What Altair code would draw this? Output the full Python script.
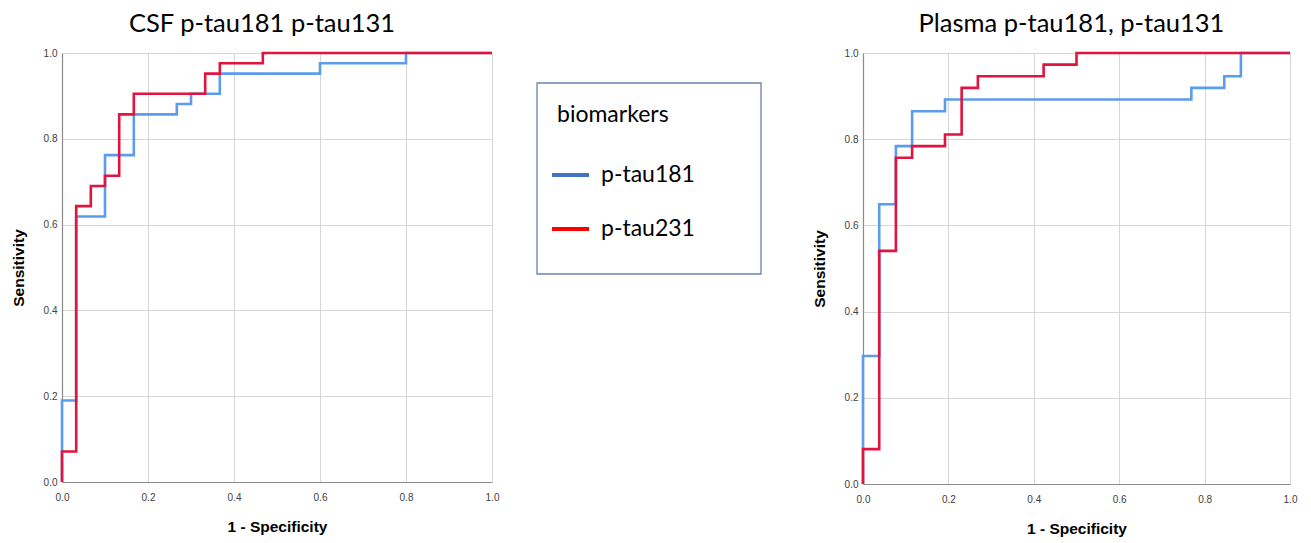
import altair as alt
import pandas as pd

# ---- data ----
series_names = ["p-tau181", "p-tau231"]

csf_181_fpr = [0.0, 0.0, 0.033, 0.100, 0.167, 0.267, 0.300, 0.367, 0.600, 0.800, 1.0]
csf_181_tpr = [0.0, 0.190, 0.619, 0.762, 0.857, 0.881, 0.905, 0.952, 0.976, 1.0, 1.0]
csf_231_fpr = [0.0, 0.0, 0.033, 0.067, 0.100, 0.133, 0.167, 0.333, 0.367, 0.467, 1.0]
csf_231_tpr = [0.0, 0.071, 0.643, 0.690, 0.714, 0.857, 0.905, 0.952, 0.976, 1.0, 1.0]

pl_181_fpr = [0.0, 0.0, 0.038, 0.077, 0.115, 0.192, 0.769, 0.846, 0.885, 1.0]
pl_181_tpr = [0.0, 0.297, 0.649, 0.784, 0.865, 0.892, 0.919, 0.946, 1.0, 1.0]
pl_231_fpr = [0.0, 0.0, 0.038, 0.077, 0.115, 0.192, 0.231, 0.269, 0.423, 0.500, 1.0]
pl_231_tpr = [0.0, 0.081, 0.541, 0.757, 0.784, 0.811, 0.919, 0.946, 0.973, 1.0, 1.0]

titles = ["CSF p-tau181 p-tau131", "Plasma p-tau181, p-tau131"]
x_title = "1 - Specificity"
y_title = "Sensitivity"
legend_title = "biomarkers"

line_colors = ["#5b9cec", "#e0143e"]
legend_colors = ["#4472c4", "#ff0000"]


def frame(fpr, tpr, name):
    return pd.DataFrame({"fpr": fpr, "tpr": tpr, "biomarker": name, "i": range(len(fpr))})


csf = pd.concat([frame(csf_181_fpr, csf_181_tpr, series_names[0]),
                 frame(csf_231_fpr, csf_231_tpr, series_names[1])])
plasma = pd.concat([frame(pl_181_fpr, pl_181_tpr, series_names[0]),
                    frame(pl_231_fpr, pl_231_tpr, series_names[1])])

ticks = [0.0, 0.2, 0.4, 0.6, 0.8, 1.0]


def roc(df, title, w, h, dx):
    return alt.Chart(df).mark_line(interpolate="step-after", strokeWidth=2.6).encode(
        x=alt.X("fpr:Q", title=x_title,
                scale=alt.Scale(domain=[0, 1], nice=False),
                axis=alt.Axis(values=ticks, format=".1f", labelFlush=False,
                              labelPadding=10, titlePadding=17)),
        y=alt.Y("tpr:Q", title=y_title,
                scale=alt.Scale(domain=[0, 1], nice=False),
                axis=alt.Axis(values=ticks, format=".1f", labelFlush=False,
                              labelPadding=5, titlePadding=17)),
        color=alt.Color("biomarker:N", scale=alt.Scale(domain=series_names, range=line_colors),
                        legend=None),
        order=alt.Order("i:Q"),
        detail="biomarker:N",
    ).properties(
        width=w, height=h,
        title=alt.TitleParams(title, fontSize=25.5, font="Lato", fontWeight="normal",
                              color="#000000", dx=dx, offset=10, anchor="middle"),
    )


left = roc(csf, titles[0], 430, 429, -15)
right = roc(plasma, titles[1], 427, 431, -5)

# ---- legend panel ----
leg_df = pd.DataFrame({"biomarker": series_names, "row": list(range(len(series_names)))})
box = alt.Chart(pd.DataFrame({"k": [0]})).mark_rect(
    fill="white", stroke="#6882b2", strokeWidth=1.3
).encode(x=alt.value(0), x2=alt.value(224), y=alt.value(30), y2=alt.value(221))
ttl = alt.Chart(pd.DataFrame({"t": [legend_title]})).mark_text(
    align="left", baseline="middle", fontSize=23, font="Lato", color="#000000"
).encode(x=alt.value(20), y=alt.value(62), text="t:N")
ypos = alt.Y("row:Q", scale=alt.Scale(domain=[0, 1], range=[122, 176]), axis=None)
sym = alt.Chart(leg_df).mark_rule(strokeWidth=4).encode(
    x=alt.value(15), x2=alt.value(52), y=ypos,
    color=alt.Color("biomarker:N", scale=alt.Scale(domain=series_names, range=legend_colors),
                    legend=None),
)
lab = alt.Chart(leg_df).mark_text(
    align="left", baseline="middle", fontSize=23, font="Lato", color="#000000"
).encode(x=alt.value(64), y=ypos, text="biomarker:N")
legend_panel = alt.layer(box, ttl, sym, lab).properties(width=224, height=221).resolve_scale(
    color="independent")

chart = alt.hconcat(
    alt.hconcat(left, legend_panel, spacing=37).resolve_scale(color="independent"),
    right, spacing=50,
).resolve_scale(
    color="independent"
).properties(
    padding={"left": 3, "top": 4, "right": 5, "bottom": 0}
).configure_view(stroke=None).configure_axis(
    labelFont="Liberation Sans", labelFontSize=10, labelColor="#404040",
    titleFont="Liberation Sans", titleFontSize=15.5, titleFontWeight="bold", titleColor="#000000",
    gridColor="#d6d6d6", gridWidth=1, domainColor="#8a8a8a", domainWidth=1.2,
    ticks=False,
)

chart.save("out.html", embed_options={"renderer": "svg", "actions": False})
